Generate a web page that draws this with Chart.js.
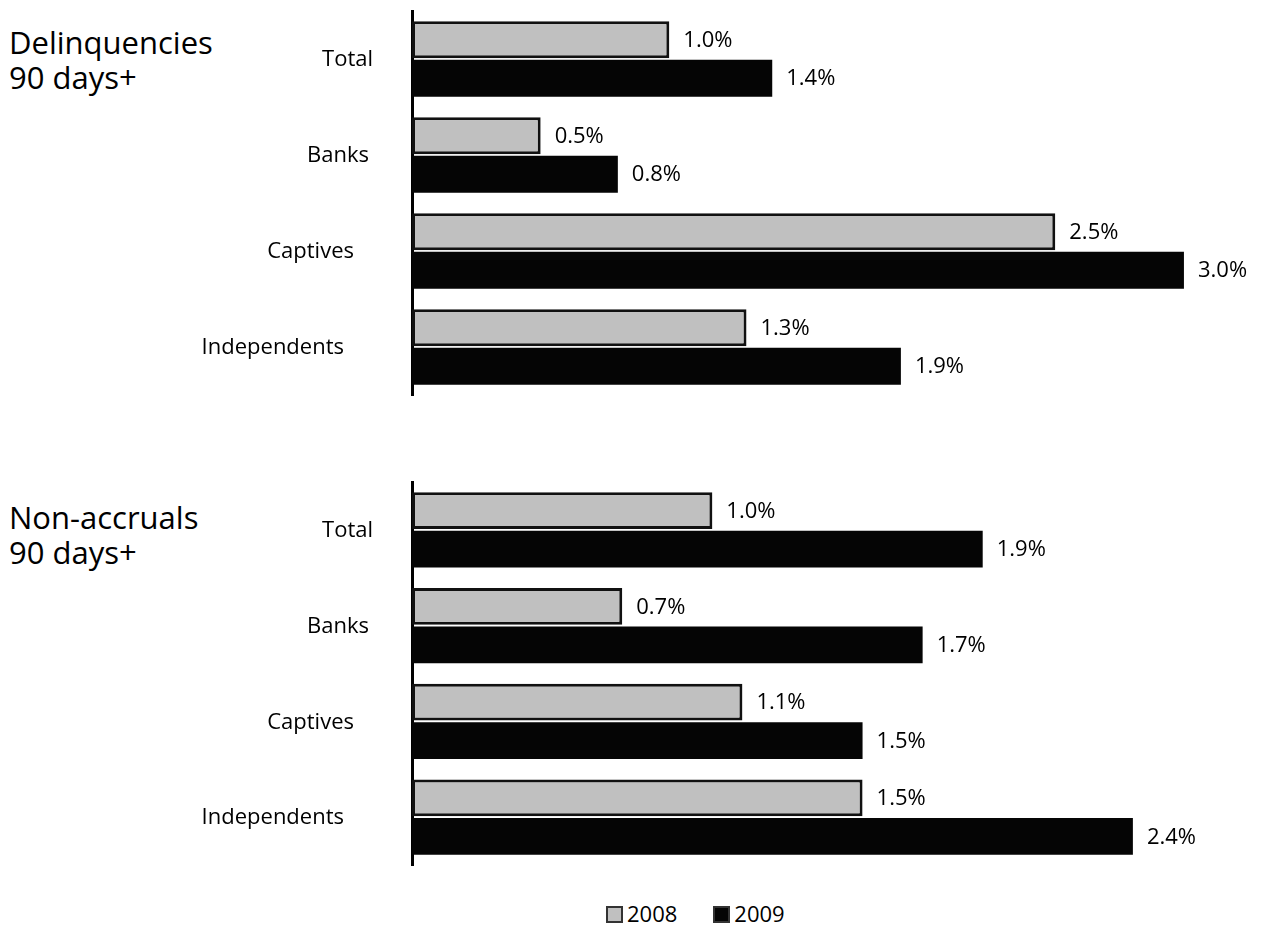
<!DOCTYPE html>
<html lang="en">
  <head>
    <meta charset="UTF-8" />
    <title>Delinquencies and Non-accruals</title>
    <style>
      body {
        margin: 0;
        background: #fff;
        font-family: "Open Sans", sans-serif;
        color: #000;
      }
      .page {
        position: relative;
        width: 1264px;
        height: 926px;
      }
      .box {
        position: absolute;
        left: 0;
        width: 1264px;
        height: 405px;
      }
      .title {
        position: absolute;
        left: 9px;
        font-size: 31px;
        line-height: 35px;
      }
      .legend {
        position: absolute;
        top: 898px;
        left: 606px;
        font-size: 22px;
        white-space: nowrap;
      }
      .legend span.sw {
        display: inline-block;
        width: 13px;
        height: 13px;
        border: 2px solid #333;
        vertical-align: -1px;
        margin-right: 4px;
      }
      .legend .item { margin-right: 36px; }
    </style>
  </head>
  <body>
    <div class="page">
      <div class="title" style="top: 25px">Delinquencies<br />90 days+</div>
      <div class="title" style="top: 500px">Non-accruals<br />90 days+</div>
      <div class="box" style="top: 0"><canvas id="delinqChart"></canvas></div>
      <div class="box" style="top: 470px"><canvas id="nonaccChart"></canvas></div>
      <div class="legend">
        <span class="item"><span class="sw" style="background:#c0c0c0"></span>2008</span><span><span class="sw" style="background:#050505"></span>2009</span>
      </div>
    </div>

    <script src="https://cdn.jsdelivr.net/npm/chart.js"></script>
    <script>
      const categories = ["Total", "Banks", "Captives", "Independents"];
      const seriesNames = ["2008", "2009"];
      const delinq2008 = [1.0, 0.5, 2.5, 1.3];
      const delinq2009 = [1.4, 0.8, 3.0, 1.9];
      const nonacc2008 = [1.0, 0.7, 1.1, 1.5];
      const nonacc2009 = [1.9, 1.7, 1.5, 2.4];

      // right edge of each category label (they are not aligned in the original)
      const labelRight = [373, 369, 354, 344];

      const labelPlugin = {
        id: "labels",
        afterDatasetsDraw(chart) {
          const ctx = chart.ctx;
          ctx.save();
          ctx.fillStyle = "#000";
          ctx.textBaseline = "middle";
          ctx.font = '22px "Open Sans"';
          ctx.textAlign = "left";
          chart.data.datasets.forEach((ds, i) => {
            chart.getDatasetMeta(i).data.forEach((bar, j) => {
              ctx.fillText(ds.data[j].toFixed(1) + "%", bar.x + 14, bar.y + 1);
            });
          });
          ctx.textAlign = "right";
          const yScale = chart.scales.y;
          chart.data.labels.forEach((lab, j) => {
            ctx.fillText(lab, labelRight[j], yScale.getPixelForValue(j) + 1);
          });
          ctx.restore();
        },
      };

      // px per 1%: ~257 on the top chart, ~300 on the bottom one
      function makeChart(id, d2008, d2009, xMax, pxPerUnit, padTop) {
        const right = 1264 - 413 - xMax * pxPerUnit;
        return new Chart(document.getElementById(id), {
          type: "bar",
          data: {
            labels: categories,
            datasets: [
              {
                label: seriesNames[0],
                data: d2008,
                backgroundColor: "#c0c0c0",
                borderColor: "#111",
                borderWidth: 3,
                borderSkipped: false,
              },
              {
                label: seriesNames[1],
                data: d2009,
                backgroundColor: "#050505",
                borderColor: "#050505",
                borderWidth: 0,
              },
            ],
          },
          options: {
            indexAxis: "y",
            responsive: true,
            maintainAspectRatio: false,
            animation: false,
            datasets: {
              bar: { categoryPercentage: 0.8, barPercentage: 0.96 },
            },
            layout: { padding: { left: 412, right: right, top: padTop, bottom: 10 } },
            plugins: { legend: { display: false }, tooltip: { enabled: false } },
            scales: {
              x: { display: false, min: 0, max: xMax },
              y: {
                grid: { display: false, drawTicks: false },
                ticks: { display: false },
                border: { display: true, color: "#000", width: 3 },
              },
            },
          },
          plugins: [labelPlugin],
        });
      }

      const delinqChart = makeChart("delinqChart", delinq2008, delinq2009, 3.2, 257, 11);
      const nonaccChart = makeChart("nonaccChart", nonacc2008, nonacc2009, 2.7, 300, 12);
    </script>
  </body>
</html>
